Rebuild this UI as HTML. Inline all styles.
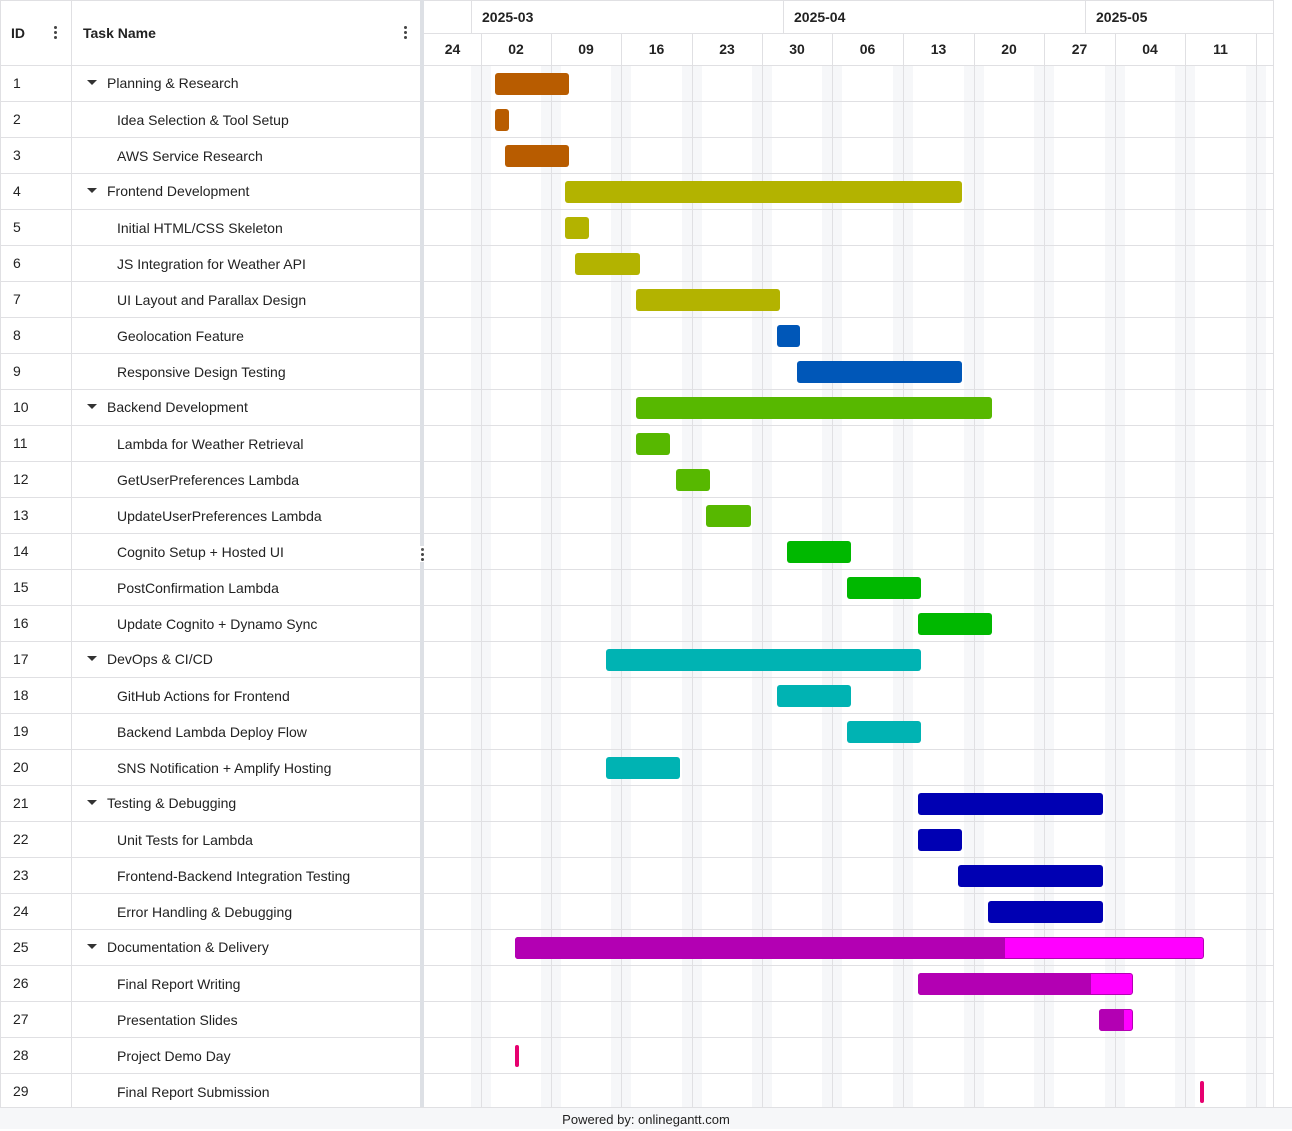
<!DOCTYPE html>
<html><head><meta charset="utf-8"><style>
*{box-sizing:border-box;margin:0;padding:0}
body{width:1292px;height:1129px;background:#fff;font-family:"Liberation Sans",sans-serif;position:relative;overflow:hidden;color:#222}
.a{position:absolute}
.hl{position:absolute;height:1px;background:#e0e0e3}
.vl{position:absolute;width:1px;background:#e0e0e3}
.we{position:absolute;top:65px;height:1042px;width:20px;background:#f6f7f9}
.id{position:absolute;left:13px;font-size:14px}
.tn{position:absolute;font-size:14px}
.tri{position:absolute;left:87px;width:0;height:0;border-left:5px solid transparent;border-right:5px solid transparent;border-top:5px solid #333}
.bar{position:absolute;height:22px;border-radius:3px}
.wk{position:absolute;top:33px;height:32px;line-height:32px;font-size:14px;font-weight:bold;text-align:center}
.mo{position:absolute;top:0;height:33px;line-height:34px;font-size:14px;font-weight:bold;padding-left:11px}
.dots{position:absolute;width:3px;height:3px;border-radius:50%;background:#444;box-shadow:0 5px 0 #444,0 10px 0 #444}
</style></head><body>
<div id="g"></div>
<div class="a" style="left:0;top:1107px;width:1292px;height:22px;background:#f6f7f9;border-top:1px solid #e0e0e3;text-align:center;font-size:13px;line-height:23px;color:#222">Powered by: onlinegantt.com</div>
<script>
var h='';
// weekend shading
var weeks=[481,551,621,692,762,832,903,974,1044,1115,1185,1256];
weeks.forEach(function(x){h+='<div class="we" style="left:'+(x-10)+'px"></div>';});
// vertical lines chart
weeks.forEach(function(x){h+='<div class="vl" style="left:'+x+'px;top:33px;height:1074px"></div>';});
h+='<div class="vl" style="left:1273px;top:0;height:1107px"></div>';
[471,783,1085].forEach(function(x){h+='<div class="vl" style="left:'+x+'px;top:0;height:33px"></div>';});
h+='<div class="hl" style="left:424px;top:33px;width:849px"></div>';
h+='<div class="hl" style="left:0;top:0;width:1273px"></div>';
// left table lines
h+='<div class="vl" style="left:0;top:0;height:1107px"></div>';
h+='<div class="vl" style="left:71px;top:0;height:1107px"></div>';
h+='<div class="a" style="left:420px;top:0;width:4px;height:1107px;background:#dde0e5"></div>';
h+='<div class="a" style="left:420px;top:546px;width:4px;height:16px;background:#fff"></div>';
h+='<div class="dots" style="left:421px;top:548px;background:#555"></div>';
// header rows
h+='<div class="a" style="left:11px;top:0;height:65px;line-height:66px;font-size:14px;font-weight:bold">ID</div>';
h+='<div class="a" style="left:83px;top:0;height:65px;line-height:66px;font-size:14px;font-weight:bold">Task Name</div>';
h+='<div class="dots" style="left:54px;top:26px"></div><div class="dots" style="left:404px;top:26px"></div>';
[[471,'2025-03'],[783,'2025-04'],[1085,'2025-05']].forEach(function(m){h+='<div class="mo" style="left:'+m[0]+'px">'+m[1]+'</div>';});
var wl=['24','02','09','16','23','30','06','13','20','27','04','11'];
var xs=[424].concat(weeks);
for(var i=0;i<wl.length;i++){var x1=xs[i],x2=xs[i+1];h+='<div class="wk" style="left:'+x1+'px;width:'+(x2-x1)+'px">'+wl[i]+'</div>';}
var tasks=[
[1,'Planning & Research',1,[[495,569,'#b85c00']]],
[2,'Idea Selection & Tool Setup',0,[[495,509,'#b85c00']]],
[3,'AWS Service Research',0,[[505,569,'#b85c00']]],
[4,'Frontend Development',1,[[565,962,'#b3b300']]],
[5,'Initial HTML/CSS Skeleton',0,[[565,589,'#b3b300']]],
[6,'JS Integration for Weather API',0,[[575,640,'#b3b300']]],
[7,'UI Layout and Parallax Design',0,[[636,780,'#b3b300']]],
[8,'Geolocation Feature',0,[[777,800,'#0057b8']]],
[9,'Responsive Design Testing',0,[[797,962,'#0057b8']]],
[10,'Backend Development',1,[[636,992,'#57b800']]],
[11,'Lambda for Weather Retrieval',0,[[636,670,'#57b800']]],
[12,'GetUserPreferences Lambda',0,[[676,710,'#57b800']]],
[13,'UpdateUserPreferences Lambda',0,[[706,751,'#57b800']]],
[14,'Cognito Setup + Hosted UI',0,[[787,851,'#00b800']]],
[15,'PostConfirmation Lambda',0,[[847,921,'#00b800']]],
[16,'Update Cognito + Dynamo Sync',0,[[918,992,'#00b800']]],
[17,'DevOps & CI/CD',1,[[606,921,'#00b3b3']]],
[18,'GitHub Actions for Frontend',0,[[777,851,'#00b3b3']]],
[19,'Backend Lambda Deploy Flow',0,[[847,921,'#00b3b3']]],
[20,'SNS Notification + Amplify Hosting',0,[[606,680,'#00b3b3']]],
[21,'Testing & Debugging',1,[[918,1103,'#0000b3']]],
[22,'Unit Tests for Lambda',0,[[918,962,'#0000b3']]],
[23,'Frontend-Backend Integration Testing',0,[[958,1103,'#0000b3']]],
[24,'Error Handling & Debugging',0,[[988,1103,'#0000b3']]],
[25,'Documentation & Delivery',1,[[515,1204,'#ff00ff'],[515,1005,'#b300b3']]],
[26,'Final Report Writing',0,[[918,1133,'#ff00ff'],[918,1091,'#b300b3']]],
[27,'Presentation Slides',0,[[1099,1133,'#ff00ff'],[1099,1124,'#b300b3']]],
[28,'Project Demo Day',0,[[515,519,'#e6006f']]],
[29,'Final Report Submission',0,[[1200,1204,'#e6006f']]]
];
tasks.forEach(function(t,i){
 var y=65+i*36;
 h+='<div class="hl" style="left:0;top:'+y+'px;width:420px"></div>';
 h+='<div class="hl" style="left:424px;top:'+y+'px;width:849px"></div>';
 h+='<div class="id" style="top:'+(y+10)+'px">'+t[0]+'</div>';
 var nm=t[1].replace(/&/g,'&amp;');
 if(t[2]){h+='<div class="tri" style="top:'+(y+15)+'px"></div><div class="tn" style="left:107px;top:'+(y+10)+'px">'+nm+'</div>';}
 else h+='<div class="tn" style="left:117px;top:'+(y+11)+'px">'+nm+'</div>';
 t[3].forEach(function(b,j){
  var r=(t[3].length>1&&j==1)?'border-radius:3px 0 0 3px;':'';
  var bd=(t[3].length>1&&j==0)?'border:1px solid #b300b3;':'';
  h+='<div class="bar" style="left:'+b[0]+'px;width:'+(b[1]-b[0])+'px;top:'+(y+8)+'px;background:'+b[2]+';'+r+bd+'"></div>';
 });
});
document.getElementById('g').innerHTML=h;
</script>
</body></html>
